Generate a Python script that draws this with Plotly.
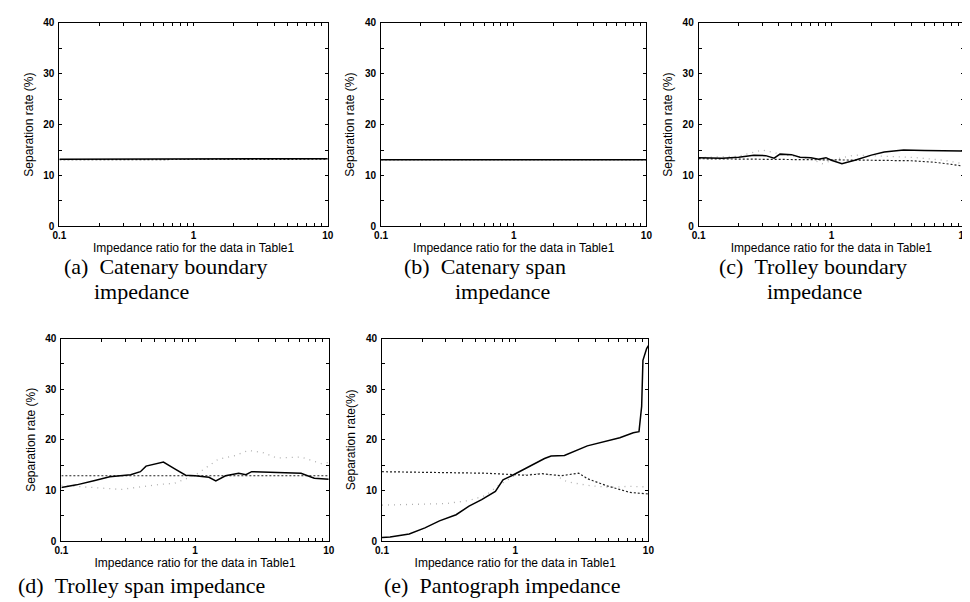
import plotly.graph_objects as go

W, H = 970, 602

# ---------------- data ----------------
# (a) Catenary boundary impedance
a_x = [0.1, 1, 10]
a_solid = [13.2, 13.2, 13.3]
a_dash = [13.1, 13.2, 13.2]

# (b) Catenary span impedance
b_x = [0.1, 1, 10]
b_solid = [13.1, 13.1, 13.1]
b_dash = [13.1, 13.1, 13.1]

# (c) Trolley boundary impedance
c_x_solid = [0.1, 0.15, 0.2, 0.26, 0.32, 0.37, 0.41, 0.5, 0.58, 0.7, 0.8,
             0.91, 1.0, 1.2, 1.5, 2.0, 2.5, 3.5, 5, 7, 10]
c_solid = [13.5, 13.4, 13.6, 14.0, 13.9, 13.4, 14.2, 14.1, 13.6, 13.5, 13.2,
           13.5, 13.0, 12.3, 13.0, 14.0, 14.6, 15.0, 14.9, 14.8, 14.8]
c_x_dash = [0.1, 0.3, 1, 2, 4, 6, 8, 10]
c_dash = [13.3, 13.2, 13.2, 13.0, 12.9, 12.6, 12.2, 11.8]
c_x_gray = [0.1, 0.2, 0.3, 0.45, 0.7, 0.85, 1.1, 1.5, 2.5, 4.4, 7, 10]
c_gray = [13.5, 13.8, 15.0, 14.0, 13.3, 12.3, 13.3, 14.0, 13.8, 13.5, 13.0, 12.3]

# (d) Trolley span impedance
d_x_solid = [0.1, 0.13, 0.175, 0.23, 0.33, 0.39, 0.43, 0.48, 0.58, 0.7, 0.85,
             1.0, 1.27, 1.43, 1.69, 2.12, 2.4, 2.65, 4.2, 6.2, 7.8, 10]
d_solid = [10.6, 11.1, 11.9, 12.7, 13.1, 13.7, 14.8, 15.1, 15.6, 14.3, 13.0,
           12.9, 12.6, 11.9, 12.9, 13.4, 13.1, 13.7, 13.5, 13.4, 12.4, 12.2]
d_x_dash = [0.1, 1, 10]
d_dash = [12.9, 12.9, 12.9]
d_x_gray = [0.1, 0.28, 0.55, 0.7, 1.0, 1.2, 1.5, 2.0, 2.5, 3.2, 4.1, 6.2, 8.8, 10]
d_gray = [11.0, 10.2, 11.2, 11.4, 13.0, 14.4, 16.2, 16.9, 17.9, 17.5, 16.4, 16.6, 15.3, 15.5]

# (e) Pantograph impedance
e_x_solid = [0.1, 0.115, 0.16, 0.21, 0.27, 0.36, 0.45, 0.56, 0.71, 0.81, 0.94,
             1.18, 1.66, 1.86, 2.34, 3.48, 4.9, 6.1, 7.7, 8.5, 8.9, 9.1, 9.7, 10]
e_solid = [0.7, 0.8, 1.4, 2.6, 4.0, 5.2, 6.9, 8.2, 9.8, 12.1, 12.9,
           14.3, 16.3, 16.8, 16.9, 18.8, 19.8, 20.4, 21.4, 21.6, 26.6, 35.7, 38.0, 38.6]
e_x_dash = [0.1, 0.3, 0.6, 1.0, 1.2, 1.6, 2.2, 3.0, 3.5, 4.9, 7.3, 10]
e_dash = [13.7, 13.6, 13.4, 13.1, 13.0, 13.3, 12.9, 13.4, 12.3, 10.9, 9.6, 9.3]
e_x_gray = [0.1, 0.2, 0.3, 0.45, 0.6, 0.75, 1.0, 1.5, 2.0, 2.45, 3.5, 5, 7, 10]
e_gray = [7.1, 7.2, 7.4, 8.0, 9.0, 11.0, 13.0, 13.3, 13.0, 11.7, 11.0, 10.6, 10.8, 10.7]

x_title = "Impedance ratio for the data in Table1"
y_titles = ["Separation rate (%)", "Separation rate (%)", "Separation rate (%)",
            "Separation rate (%)", "Separation rate(%)"]
captions = [
    ["(a)\u2002Catenary boundary", "impedance"],
    ["(b)\u2002Catenary span", "impedance"],
    ["(c)\u2002Trolley boundary", "impedance"],
    ["(d)\u2002Trolley span impedance"],
    ["(e)\u2002Pantograph impedance"],
]

# ---------------- layout geometry (pixels) ----------------
boxes = [  # left, right, top, bottom
    (45, 317, 10, 217),
    (371, 640, 10, 217),
    (693, 962, 10, 217),
    (47, 318, 331, 537),
    (372, 642, 331, 537),
]

series = [
    [(a_x, a_dash, "dash"), (a_x, a_solid, "solid")],
    [(b_x, b_dash, "dash"), (b_x, b_solid, "solid")],
    [(c_x_gray, c_gray, "gray"), (c_x_dash, c_dash, "dash"), (c_x_solid, c_solid, "solid")],
    [(d_x_gray, d_gray, "gray"), (d_x_dash, d_dash, "dash"), (d_x_solid, d_solid, "solid")],
    [(e_x_gray, e_gray, "gray"), (e_x_dash, e_dash, "dash"), (e_x_solid, e_solid, "solid")],
]

styles = {
    "solid": dict(color="black", width=1.5, dash="solid"),
    "dash": dict(color="#222222", width=1.2, dash="2px,2px"),
    "gray": dict(color="#b0b0b0", width=1.3, dash="1px,5px"),
}

fig = go.Figure()

minor_vals = []
for dec in (0.1, 1):
    for k in range(1, 10):
        minor_vals.append(round(dec * k, 3))
minor_vals.append(10)
labels = {0.1: "0.1", 1: "1", 10: "10"}
xtext = ["<b>%s</b>" % labels[v] if v in labels else "" for v in minor_vals]
yvals = [0, 5, 10, 15, 20, 25, 30, 35, 40]
ytext = ["<b>%d</b>" % v if v % 10 == 0 else "" for v in yvals]

tickfont = dict(family="Liberation Sans, Arial", size=10, color="black")
titlefont = dict(family="Liberation Sans, Arial", size=12, color="black")

for i, (box, ser) in enumerate(zip(boxes, series)):
    l, r, t, b = box
    xa = "xaxis" if i == 0 else "xaxis%d" % (i + 1)
    ya = "yaxis" if i == 0 else "yaxis%d" % (i + 1)
    xr = "x" if i == 0 else "x%d" % (i + 1)
    yr = "y" if i == 0 else "y%d" % (i + 1)
    for xs, ys, st in ser:
        fig.add_trace(go.Scatter(x=xs, y=ys, mode="lines", line=styles[st],
                                 xaxis=xr, yaxis=yr, showlegend=False,
                                 hoverinfo="skip"))
    fig.layout[xa] = dict(
        domain=[l / W, r / W], anchor=yr, type="log", range=[-1, 1],
        tickvals=minor_vals, ticktext=xtext, ticks="inside", ticklen=3,
        tickwidth=1, tickcolor="black", mirror="allticks", showline=True,
        linecolor="black", linewidth=1, showgrid=False, zeroline=False,
        tickfont=tickfont, ticklabelstandoff=0,
        title=dict(text=x_title, font=titlefont, standoff=2),
    )
    fig.layout[ya] = dict(
        domain=[1 - b / H, 1 - t / H], anchor=xr, range=[0, 40],
        tickvals=yvals, ticktext=ytext, ticks="inside", ticklen=3,
        tickwidth=1, tickcolor="black", mirror="allticks", showline=True,
        linecolor="black", linewidth=1, showgrid=False, zeroline=False,
        tickfont=tickfont, ticklabelstandoff=2,
        title=dict(text=y_titles[i], font=titlefont, standoff=7),
    )

# captions
cap_pos = [
    [(48, 258), (78, 283)],
    [(392, 258), (444, 283)],
    [(712, 258), (760, 283)],
    [(1, 582)],
    [(372, 582)],
]
capfont = dict(family="Liberation Serif, Times New Roman, serif", size=22, color="black")
for lines, poss in zip(captions, cap_pos):
    for txt, (px, py) in zip(lines, poss):
        fig.add_annotation(text=txt, x=px / W, y=1 - py / H, xref="paper", yref="paper",
                           xanchor="left", yanchor="middle", showarrow=False, font=capfont)

fig.update_layout(width=W, height=H, margin=dict(l=0, r=0, t=0, b=0),
                  paper_bgcolor="white", plot_bgcolor="white")

fig.write_html("out.html")
